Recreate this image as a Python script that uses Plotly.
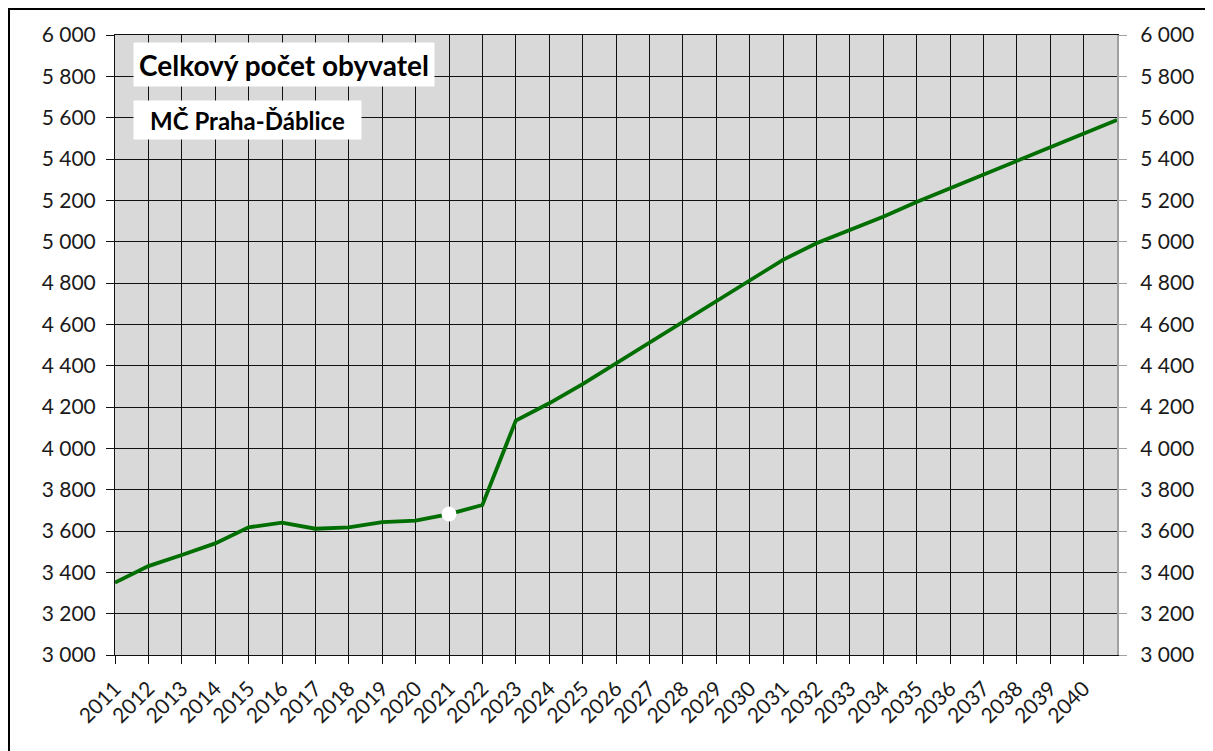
import plotly.graph_objects as go

years = list(range(2011, 2042))
population = [3350, 3430, 3484, 3540, 3618, 3640, 3611, 3618, 3643, 3650,
              3682, 3726, 4134, 4218, 4311, 4411, 4516, 4613, 4714, 4815,
              4912, 4992, 5056, 5121, 5192, 5258, 5322, 5390, 5458, 5524, 5589]
marker_year = [2021]
marker_value = [3682]

tick_years = list(range(2011, 2041))
tick_labels = [str(y) for y in tick_years]
y_ticks = list(range(3000, 6001, 200))

FONT = "Lato"
OFF = 8  # page body margin in the browser
W, H = 1213 - OFF, 751 - OFF
L, R, T, B = 115 - OFF, 96, 35 - OFF, 96
pw, ph = W - L - R, H - T - B

def px(x):  # window pixel -> paper x
    return (x - OFF - L) / pw

def py(y):  # window pixel -> paper y
    return (H + OFF - B - y) / ph

fig = go.Figure()

fig.add_trace(go.Scatter(
    x=years, y=population, mode="lines",
    line=dict(color="#006e00", width=3.8),
    showlegend=False, hoverinfo="x+y"
))
fig.add_trace(go.Scatter(
    x=marker_year, y=marker_value, mode="markers",
    marker=dict(color="white", size=15, line=dict(width=0)),
    showlegend=False
))
# invisible copy to carry the right-hand axis
fig.add_trace(go.Scatter(
    x=years, y=population, yaxis="y2", mode="lines",
    line=dict(width=0), opacity=0, showlegend=False, hoverinfo="skip"
))

fig.update_layout(
    width=W, height=H,
    margin=dict(l=L, r=R, t=T, b=B),
    paper_bgcolor="white",
    plot_bgcolor="#d9d9d9",
    separators=", ",
    font=dict(family=FONT, size=21, color="#1a1a1a"),
    xaxis=dict(
        range=[2011, 2041], tickvals=tick_years, ticktext=tick_labels,
        tickangle=-45, showgrid=True, gridcolor="#111111", gridwidth=1,
        showline=True, linecolor="#111111", linewidth=1, mirror=True,
        ticks="outside", ticklen=8, tickcolor="#111111",
        ticklabelstandoff=4,
        zeroline=False, tickfont=dict(size=21), automargin=False,
    ),
    yaxis=dict(
        range=[3000, 6000], tickvals=y_ticks, tickformat=",d",
        showgrid=True, gridcolor="#111111", gridwidth=1,
        showline=True, linecolor="#111111", linewidth=1,
        ticks="outside", ticklen=8, tickcolor="#111111",
        ticklabelstandoff=6, zeroline=False, automargin=False,
    ),
    yaxis2=dict(
        range=[3000, 6000], tickvals=y_ticks, tickformat=",d",
        overlaying="y", side="right", showgrid=False,
        showline=True, linecolor="#a0a0a0", linewidth=2,
        ticks="outside", ticklen=8, tickcolor="#a0a0a0",
        ticklabelstandoff=9, zeroline=False, automargin=False,
    ),
    annotations=[
        dict(text="<b>Celkový počet obyvatel</b>", xref="paper", yref="paper",
             x=px(133), y=py(42), xanchor="left", yanchor="top",
             width=300, height=43, align="center", valign="middle",
             bgcolor="white", borderpad=0, showarrow=False,
             font=dict(family=FONT, size=28, color="black")),
        dict(text="<b>MČ Praha-Ďáblice</b>", xref="paper", yref="paper",
             x=px(133), y=py(100), xanchor="left", yanchor="top",
             width=227, height=38, align="center", valign="middle",
             bgcolor="white", borderpad=0, showarrow=False,
             font=dict(family=FONT, size=24, color="black")),
    ],
    shapes=[
        dict(type="rect", xref="paper", yref="paper",
             x0=px(OFF + 1), x1=px(1260), y0=py(800), y1=py(OFF + 1),
             line=dict(color="black", width=2), fillcolor="rgba(0,0,0,0)"),
    ],
)

fig.write_html("out.html")
